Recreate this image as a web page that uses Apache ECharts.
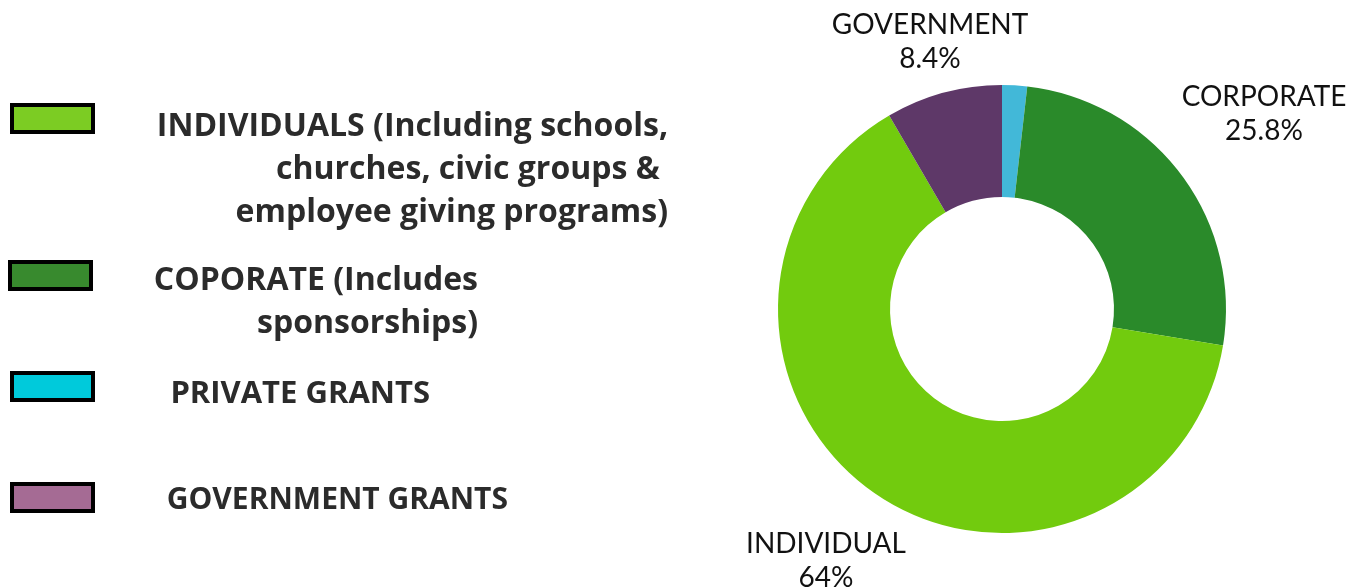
<!DOCTYPE html>
<html><head><meta charset="utf-8">
<script src="https://cdn.jsdelivr.net/npm/echarts@6/dist/echarts.min.js"></script>
<style>html,body{margin:0;padding:0;background:#fff}#c{width:1371px;height:588px}</style>
</head><body><div id="c"></div>
<script>
const categories = ['PRIVATE GRANTS', 'CORPORATE', 'INDIVIDUAL', 'GOVERNMENT'];
const values = [1.8, 25.8, 64, 8.4];
const sliceColors = ['#42b8d8', '#2a8a2a', '#72cb0e', '#5e3868'];
const showLabel = [false, true, true, true];
const legendTexts = [
  'INDIVIDUALS (Including schools,\nchurches, civic groups & \nemployee giving programs)',
  'COPORATE (Includes\nsponsorships)',
  'PRIVATE GRANTS',
  'GOVERNMENT GRANTS'
];
const legendColors = ['#7ccc23', '#388a2e', '#00cadb', '#a56b94'];

const labelPos = {1: [1264, 114], 2: [826, 561], 3: [930, 42]};
const legendLayout = [
  {box: [12, 105], tx: 668, ty: 105, fs: 32},
  {box: [10, 262], tx: 478, ty: 259, fs: 32},
  {box: [12, 373], tx: 430, ty: 373, fs: 31},
  {box: [12, 484], tx: 508, ty: 479, fs: 30}
];

const chart = echarts.init(document.getElementById('c'));
const graphics = [];
legendTexts.forEach((t, i) => {
  const L = legendLayout[i];
  graphics.push({type: 'rect', shape: {x: L.box[0], y: L.box[1], width: 81, height: 27},
    style: {fill: legendColors[i], stroke: '#000', lineWidth: 4}});
  graphics.push({type: 'text', x: L.tx, y: L.ty,
    style: {text: t, fill: '#2b2b2b', font: 'bold ' + L.fs + 'px "Open Sans"', align: 'right', verticalAlign: 'top', lineHeight: 43}});
});

chart.setOption({
  animation: false,
  graphic: graphics,
  series: [{
    type: 'pie',
    center: [1002, 309],
    radius: [112, 224],
    startAngle: 90,
    clockwise: true,
    data: categories.map((c, i) => ({
      name: c, value: values[i],
      itemStyle: {color: sliceColors[i]},
      label: {show: showLabel[i]}
    })),
    label: {
      position: 'outside',
      formatter: p => p.name + '\n' + p.value + '%',
      color: '#111',
      fontFamily: 'Lato',
      fontSize: 28,
      lineHeight: 34,
      align: 'center',
      overflow: 'none',
      width: 300
    },
    labelLine: {show: false},
    labelLayout: p => {
      const pos = labelPos[p.dataIndex];
      return pos ? {x: pos[0], y: pos[1], align: 'center', verticalAlign: 'middle'} : {};
    }
  }]
});
</script></body></html>
